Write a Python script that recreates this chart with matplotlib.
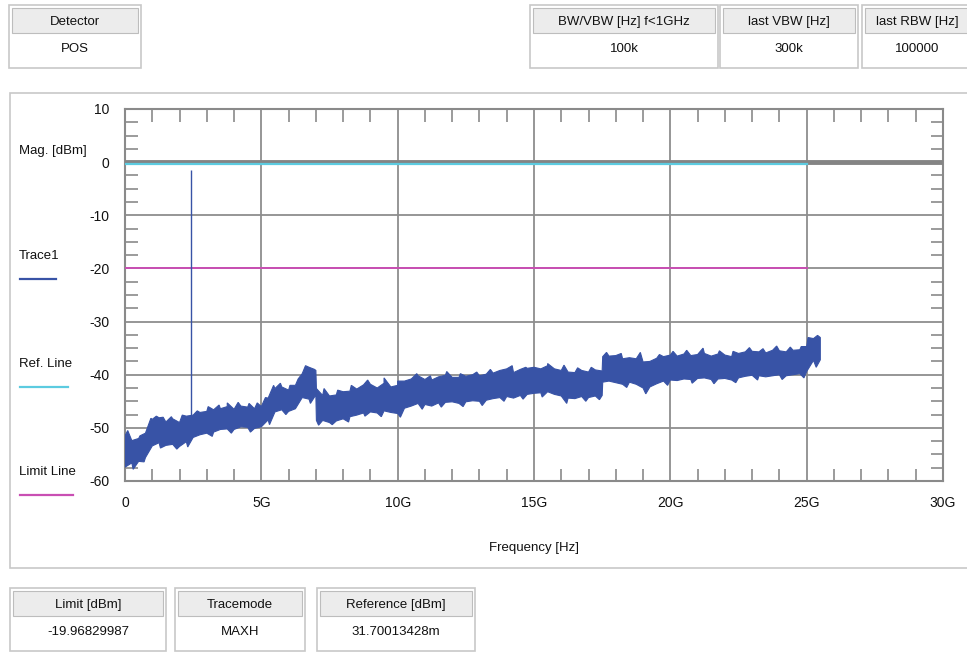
import numpy as np
import matplotlib.pyplot as plt
import matplotlib.transforms as mtransforms
from matplotlib.patches import Rectangle
from matplotlib.ticker import MultipleLocator

plt.rcParams['font.family'] = ['Liberation Sans', 'DejaVu Sans']
plt.rcParams['axes.unicode_minus'] = False

W, H = 967, 652

# trace1 envelope (top / bottom of the noisy band), GHz / dBm
f1 = np.arange(0, 7.01, 0.25)
up1 = [-51.5, -52.4, -52.0, -51.0, -48.4, -48.1, -48.9, -48.3, -49.0, -47.8, -47.6, -47.1, -46.9, -46.6, -46.4,
       -46.0, -46.5, -45.9, -46.1, -46.4, -46.0, -44.4, -42.6, -42.3, -42.9, -42.0, -39.8, -38.6, -39.2]
lo1 = [-57.4, -56.6, -56.3, -55.6, -53.4, -52.8, -53.3, -53.1, -53.5, -52.6, -51.8, -51.3, -51.0, -50.8, -50.3,
       -50.2, -50.3, -49.8, -49.9, -50.1, -49.8, -48.5, -47.0, -46.6, -46.9, -46.4, -44.3, -44.6, -43.8]

f2 = np.concatenate([[7.02], np.arange(7.25, 17.51, 0.25)])
up2 = [-42.6, -43.9, -44.0, -43.8, -43.2, -43.1, -42.7, -41.9, -41.8, -42.5, -41.6, -42.3, -42.0, -41.2, -40.8,
       -40.2, -40.9, -41.0, -40.4, -40.1, -40.5, -40.5, -40.3, -40.0, -40.2, -39.9, -39.7, -39.2, -38.9, -39.6,
       -39.0, -38.8, -38.6, -38.9, -38.3, -38.9, -39.2, -39.5, -39.6, -39.2, -39.5, -39.1, -39.3]
lo2 = [-48.6, -48.6, -49.0, -48.7, -48.3, -47.9, -47.6, -47.2, -47.0, -47.2, -46.8, -47.1, -47.3, -46.3, -45.9,
       -45.4, -45.6, -45.9, -45.3, -45.2, -45.1, -45.4, -45.1, -44.9, -45.0, -44.8, -44.5, -44.3, -44.1, -44.4,
       -43.9, -43.7, -43.5, -43.4, -43.2, -43.7, -44.0, -44.4, -44.5, -44.1, -44.3, -44.0, -43.9]

f3 = np.concatenate([[17.52], np.arange(17.75, 25.51, 0.25)])
up3 = [-36.6, -36.5, -36.4, -37.0, -36.8, -37.0, -37.6, -37.5, -36.9, -36.6, -36.3, -36.5, -36.1, -36.4, -36.2,
       -36.0, -36.5, -36.1, -36.3, -36.6, -36.0, -35.7, -35.6, -35.7, -35.9, -35.4, -35.5, -35.7, -35.4, -35.3,
       -34.7, -33.2, -33.0]
lo3 = [-41.4, -41.2, -41.5, -41.8, -41.4, -41.8, -42.5, -42.3, -41.7, -41.2, -41.0, -41.1, -40.8, -40.9, -40.7,
       -40.6, -40.9, -40.8, -40.7, -41.0, -40.6, -40.3, -40.1, -40.2, -40.4, -40.2, -40.0, -40.2, -40.0, -39.8,
       -39.4, -37.3, -37.2]

# single noise peaks / dips on the band edges (GHz, dBm)
peak_f = [0.1, 0.55, 0.95, 1.15, 1.4, 1.7, 2.1, 2.65, 3.05, 3.45, 3.75, 4.15, 4.55, 4.85, 5.15, 5.45, 5.7, 6.05,
          6.35, 6.62, 6.95, 7.3, 7.8, 8.3, 8.9, 9.5, 10.0, 10.7, 11.2, 11.8, 12.3, 12.9, 13.4, 14.2, 14.7, 15.5,
          16.1, 16.6, 17.1, 17.66, 18.2, 18.9, 19.6, 20.1, 20.6, 21.2, 21.8, 22.3, 22.9, 23.4, 23.9, 24.4, 24.8,
          25.05, 25.4]
peak_v = [-50.5, -51.5, -48.2, -47.8, -48.0, -47.9, -47.6, -46.8, -46.0, -45.7, -45.3, -45.2, -45.4, -45.3, -44.3,
          -42.0, -41.6, -42.0, -40.8, -38.3, -39.0, -42.6, -42.9, -42.0, -41.0, -40.6, -41.2, -39.8, -40.2, -39.4,
          -39.8, -39.5, -39.0, -38.3, -38.6, -37.9, -38.2, -38.7, -38.6, -35.8, -36.0, -35.8, -36.2, -35.6, -35.4,
          -35.0, -35.5, -35.6, -34.9, -35.1, -34.6, -34.8, -34.7, -33.0, -32.6]
dip_f = [0.3, 0.7, 1.3, 1.9, 2.3, 3.2, 3.9, 4.6, 5.3, 5.9, 6.8, 7.1, 7.6, 8.2, 8.8, 9.4, 10.1, 10.9, 11.6, 12.4,
         13.1, 13.9, 14.6, 15.3, 16.2, 16.9, 17.4, 18.4, 19.1, 19.9, 20.8, 21.6, 22.4, 23.2, 24.1, 24.9, 25.35]
dip_v = [-57.8, -56.4, -53.8, -54.0, -53.6, -51.6, -51.0, -50.8, -49.4, -47.5, -45.4, -49.5, -49.4, -48.9, -47.8,
         -47.9, -48.0, -46.5, -46.1, -46.0, -45.8, -45.0, -44.6, -44.2, -45.4, -45.0, -44.7, -42.4, -43.6, -42.0,
         -41.6, -41.7, -41.5, -41.0, -40.9, -40.6, -38.6]

spike_f = 2.42
spike_lo, spike_hi = -49.0, -1.5

ref_level = 0.0317
limit_level = -19.96829987
lines_end = 25.0

x_ticks = [0, 5, 10, 15, 20, 25, 30]
x_labels = ['0', '5G', '10G', '15G', '20G', '25G', '30G']

top_tables = [
    ((9, 141), 'Detector', 'POS'),
    ((530, 718), 'BW/VBW [Hz] f<1GHz', '100k'),
    ((720, 858), 'last VBW [Hz]', '300k'),
    ((862, 972), 'last RBW [Hz]', '100000'),
]
bottom_tables = [
    ((10, 166), 'Limit [dBm]', '-19.96829987'),
    ((175, 305), 'Tracemode', 'MAXH'),
    ((317, 475), 'Reference [dBm]', '31.70013428m'),
]

trace_col = '#3853a6'
ref_col = '#5ccbe0'
lim_col = '#c94fb3'
grid_col = '#8e8e8e'
txt_col = '#111111'
fs = 9.5

fig = plt.figure(figsize=(W / 100, H / 100), dpi=100)


def box(x0, y0, x1, y1, fc='white', ec='#c4c4c4', lw=1.0, z=0):
    r = Rectangle((x0 / W, 1 - y1 / H), (x1 - x0) / W, (y1 - y0) / H,
                  transform=fig.transFigure, fc=fc, ec=ec, lw=lw, zorder=z)
    fig.add_artist(r)


def table(xs, y0, head, val):
    x0, x1 = xs
    box(x0, y0, x1, y0 + 63, ec='#c8c8c8', lw=1.2)
    box(x0 + 3, y0 + 3, x1 - 3, y0 + 28, fc='#ececec', ec='#bdbdbd', lw=0.8)
    fig.text((x0 + x1) / 2 / W, 1 - (y0 + 17) / H, head, ha='center', va='center', fontsize=fs, color=txt_col)
    fig.text((x0 + x1) / 2 / W, 1 - (y0 + 44) / H, val, ha='center', va='center', fontsize=fs, color=txt_col)


for xs, head, val in top_tables:
    table(xs, 5, head, val)
for xs, head, val in bottom_tables:
    table(xs, 588, head, val)

# main panel
box(10, 93, 975, 568, ec='#c8c8c8', lw=1.2)

ax = fig.add_axes([125 / W, 1 - 481 / H, 818 / W, 372 / H])
ax.set_xlim(0, 30)
ax.set_ylim(-60, 10)

ax.grid(True, which='major', color=grid_col, lw=1.3)
ax.set_axisbelow(True)
for s in ax.spines.values():
    s.set_color('#8a8a8a')
    s.set_linewidth(1.5)

ax.xaxis.set_minor_locator(MultipleLocator(1))
ax.yaxis.set_major_locator(MultipleLocator(10))
ax.yaxis.set_minor_locator(MultipleLocator(2.5))
ax.set_xticks(x_ticks)
ax.set_xticklabels(x_labels)
ax.tick_params(which='both', direction='in', top=True, right=True, color='#8a8a8a', width=1.2)
ax.tick_params(which='major', length=0, labelsize=10, labelcolor=txt_col)
ax.tick_params(axis='x', which='major', pad=11)
ax.tick_params(axis='y', which='major', pad=11)
ax.tick_params(which='minor', length=9)

# zero axis stripe and reference / limit lines
ax.axhline(0, color='#848484', lw=3.5, zorder=3)
off = mtransforms.offset_copy(ax.transData, fig=fig, x=0, y=-1.5, units='points')
ax.plot([0, lines_end], [ref_level, ref_level], color=ref_col, lw=1.6, zorder=4, transform=off)
ax.plot([0, lines_end], [limit_level, limit_level], color=lim_col, lw=1.4, zorder=4)

# band outline: envelope points merged with the single peaks / dips
freq = np.concatenate([f1, f2, f3])
up = np.concatenate([up1, up2, up3])
lo = np.concatenate([lo1, lo2, lo3])
uf = np.concatenate([freq, peak_f])
uv = np.concatenate([up, peak_v])
o = np.argsort(uf, kind='stable')
uf, uv = uf[o], uv[o]
lf = np.concatenate([freq, dip_f])
lv = np.concatenate([lo, dip_v])
o = np.argsort(lf, kind='stable')
lf, lv = lf[o], lv[o]
ax.fill(np.concatenate([uf, lf[::-1]]), np.concatenate([uv, lv[::-1]]),
        fc=trace_col, ec=trace_col, lw=0.8, zorder=5)
ax.vlines(spike_f, spike_lo, spike_hi, color=trace_col, lw=1.0, zorder=5)

ax.set_xlabel('Frequency [Hz]', fontsize=fs, color=txt_col, labelpad=23)

fig.text(19 / W, 1 - 151 / H, 'Mag. [dBm]', ha='left', va='center', fontsize=fs, color=txt_col)

legend_items = [('Trace1', trace_col, 256, 56), ('Ref. Line', ref_col, 364, 68), ('Limit Line', lim_col, 472, 73)]
for name, col, ty, xe in legend_items:
    fig.text(19 / W, 1 - ty / H, name, ha='left', va='center', fontsize=fs, color=txt_col)
    fig.add_artist(plt.Line2D([20 / W, xe / W], [1 - (ty + 23) / H] * 2, transform=fig.transFigure,
                              color=col, lw=1.6))

fig.savefig('out.png', dpi=100)
